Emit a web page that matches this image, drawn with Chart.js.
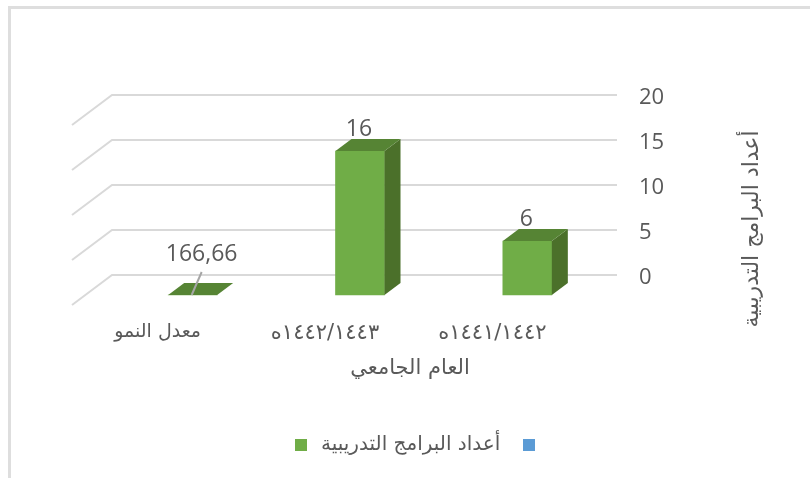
<!DOCTYPE html>
<html lang="ar">
<head>
<meta charset="utf-8">
<style>
html,body{margin:0;padding:0;background:#fff;overflow:hidden;width:810px;height:478px}
#wrap{position:absolute;left:0;top:0;width:810px;height:478px}
#frame{position:absolute;left:8px;top:6px;width:810px;height:480px;border-top:3px solid #dedede;border-left:3px solid #dedede;box-sizing:border-box;pointer-events:none}
</style>
<script src="https://cdn.jsdelivr.net/npm/chart.js@4"></script>
</head>
<body>
<div id="wrap"><canvas id="c" width="810" height="478" style="width:810px;height:478px"></canvas></div>
<div id="frame"></div>
<script>
const categories = ['١٤٤١/١٤٤٢ه', '١٤٤٢/١٤٤٣ه', 'معدل النمو'];
const programCounts = [6, 16, 0];
const valueLabels = ['6', '16', '166,66'];
const seriesName = 'أعداد البرامج التدريبية';
const yTicks = [0, 5, 10, 15, 20];
const xTitle = 'العام الجامعي';
const yTitle = 'أعداد البرامج التدريبية';

const TEXT = '#595959';
const ARABIC = '"DejaVu Sans", sans-serif';
const LATIN = '"Open Sans", "Noto Sans", sans-serif';

const depth = {dx: 16, dy: -12, front: 20};

const plugin3d = {
  id: 'plugin3d',
  afterLayout(chart) {
    const l = chart.legend;
    l.left = 10; l.right = 810; l.width = 800;
  },
  beforeDatasetsDraw(chart) {
    const {ctx, scales: {y}} = chart;
    ctx.save();
    ctx.strokeStyle = '#d9d9d9';
    ctx.lineWidth = 2;
    for (const v of yTicks) {
      const py = y.getPixelForValue(v);
      ctx.beginPath();
      ctx.moveTo(72, py + 30);
      ctx.lineTo(112, py);
      ctx.lineTo(617, py);
      ctx.stroke();
    }
    ctx.restore();
    ctx.save();
    ctx.translate(0, depth.front);
  },
  afterDatasetsDraw(chart) {
    const {ctx} = chart;
    ctx.restore();
    const meta = chart.getDatasetMeta(1);
    meta.data.forEach((bar, i) => {
      const hw = bar.width / 2;
      const l = bar.x - hw, r = bar.x + hw;
      const top = bar.y + depth.front, base = bar.base + depth.front;
      ctx.fillStyle = '#4b702a';
      ctx.beginPath();
      ctx.moveTo(r, top); ctx.lineTo(r + depth.dx, top + depth.dy);
      ctx.lineTo(r + depth.dx, base + depth.dy); ctx.lineTo(r, base);
      ctx.closePath(); ctx.fill();
      ctx.fillStyle = '#568434';
      ctx.beginPath();
      ctx.moveTo(l, top); ctx.lineTo(l + depth.dx, top + depth.dy);
      ctx.lineTo(r + depth.dx, top + depth.dy); ctx.lineTo(r, top);
      ctx.closePath(); ctx.fill();

      ctx.fillStyle = TEXT;
      ctx.textAlign = 'center';
      ctx.textBaseline = 'middle';
      ctx.font = '23px ' + LATIN;
      const flat = programCounts[i] === 0;
      if (flat) {
        ctx.strokeStyle = '#a6a6a6';
        ctx.lineWidth = 2;
        ctx.beginPath();
        ctx.moveTo(bar.x - 1, top); ctx.lineTo(bar.x + 9, top - 23);
        ctx.stroke();
        ctx.fillText(valueLabels[i], bar.x + 9, top - 41);
      } else {
        ctx.fillText(valueLabels[i], bar.x - 1, top - 22);
      }
    });
    ctx.save();
    ctx.fillStyle = TEXT;
    ctx.textAlign = 'center';
    ctx.textBaseline = 'middle';
    ctx.font = '21px ' + ARABIC;
    ctx.fillText(xTitle, 410, 369);
    ctx.translate(752, 229);
    ctx.rotate(-Math.PI / 2);
    ctx.font = '22px ' + ARABIC;
    ctx.fillText(yTitle, 0, 0);
    ctx.restore();
  }
};

new Chart(document.getElementById('c'), {
  type: 'bar',
  data: {
    labels: categories,
    datasets: [
      {label: '\u00a0\u00a0' + seriesName, data: [], backgroundColor: '#5b9bd5'},
      {label: '', data: programCounts, backgroundColor: '#70ad47', barThickness: 49, clip: false}
    ]
  },
  options: {
    responsive: false,
    animation: false,
    layout: {padding: {left: 109, top: 95, right: 0, bottom: 13}},
    scales: {
      x: {
        reverse: true,
        grid: {display: false},
        border: {display: false},
        afterFit(s) { s.height = 146; },
        ticks: {
          color: TEXT,
          font: ctx => ({family: ARABIC, size: ctx.index === 2 ? 19 : 21}),
          padding: 38, labelOffset: -35, maxRotation: 0, autoSkip: false
        }
      },
      y: {
        position: 'right',
        min: 0,
        max: 20,
        afterBuildTicks(s) { s.ticks = yTicks.map(v => ({value: v})); },
        afterFit(s) { s.width = 199; },
        grid: {display: false},
        border: {display: false},
        ticks: {color: TEXT, font: {family: LATIN, size: 22}, padding: 20, labelOffset: 3, crossAlign: 'near'}
      }
    },
    datasets: {bar: {grouped: false}},
    plugins: {
      tooltip: {enabled: false},
      legend: {
        position: 'bottom',
        rtl: true,
        textDirection: 'rtl',
        labels: {color: TEXT, font: {family: ARABIC, size: 20}, boxWidth: 12, boxHeight: 12, padding: 14}
      }
    }
  },
  plugins: [plugin3d]
});
</script>
</body>
</html>
